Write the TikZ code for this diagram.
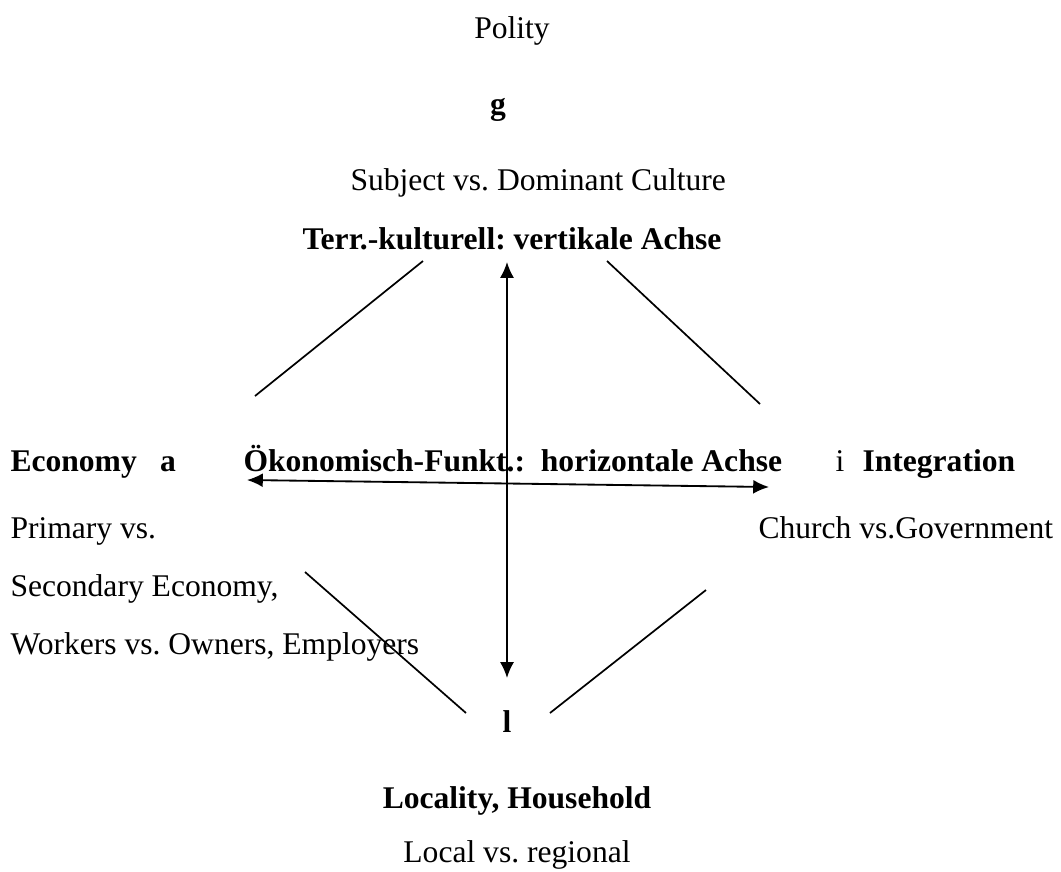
\documentclass[tikz,border=0pt]{standalone}
\usepackage{fontspec}
\setmainfont{Liberation Serif}
\frenchspacing
\usetikzlibrary{arrows.meta}

\begin{document}
\begin{tikzpicture}[
        x=0.38pt, y=-0.38pt,
        plain/.style={inner sep=0, font=\fontsize{12}{14}\selectfont},
        heading/.style={inner sep=0, font=\fontsize{12}{14}\selectfont\bfseries},
        axis/.style={line width=0.7pt, {Latex[length=6pt, width=5.3pt]}-{Latex[length=6pt, width=5.3pt]}},
        edge/.style={line width=0.65pt},
        ]
    \useasboundingbox (0, 0) rectangle (1061, 871);

    % top: g
    \node (polity) at (512, 38) [plain, anchor=base] {Polity};
    \node (g) at (498, 114) [heading, anchor=base] {g};
    \node (subject) at (350, 190) [plain, anchor=base west] {Subject vs. Dominant Culture};
    \node (vertical) at (512, 249) [heading, anchor=base] {Terr.-kulturell: vertikale Achse};

    % middle row: a and i
    \node (economy) at (10, 471) [heading, anchor=base west] {Economy};
    \node (a) at (168, 471) [heading, anchor=base] {a};
    \node (horizontal) at (243, 471) [heading, anchor=base west] {Ökonomisch-Funkt.:\ \ horizontale Achse};
    \node (i) at (840, 471) [plain, anchor=base] {i};
    \node (integration) at (862, 471) [heading, anchor=base west] {Integration};

    \node (primary) at (10, 538) [plain, anchor=base west] {Primary vs.};
    \node (secondary) at (10, 596) [plain, anchor=base west] {Secondary Economy,};
    \node (workers) at (10, 654) [plain, anchor=base west] {Workers vs. Owners, Employers};
    \node (church) at (758, 538) [plain, anchor=base west] {Church vs.Government};

    % bottom: l
    \node (l) at (507, 732) [heading, anchor=base] {l};
    \node (locality) at (517, 808) [heading, anchor=base] {Locality, Household};
    \node (local) at (517, 862) [plain, anchor=base] {Local vs. regional};

    % free ends of the four diagonals and the two axes
    \coordinate (TL1) at (423, 261);
    \coordinate (TL2) at (255, 396);
    \coordinate (TR1) at (607, 261);
    \coordinate (TR2) at (760, 404);
    \coordinate (BL1) at (305, 572);
    \coordinate (BL2) at (466, 713);
    \coordinate (BR1) at (706, 590);
    \coordinate (BR2) at (550, 713);
    \coordinate (V1) at (507, 262);
    \coordinate (V2) at (507, 678);
    \coordinate (H1) at (247, 480);
    \coordinate (H2) at (769, 487);

    \draw [edge] (TL1) -- (TL2);
    \draw [edge] (TR1) -- (TR2);
    \draw [edge] (BL1) -- (BL2);
    \draw [edge] (BR1) -- (BR2);

    \draw [axis] (V1) -- (V2);
    \draw [axis] (H1) -- (H2);
\end{tikzpicture}
\end{document}
